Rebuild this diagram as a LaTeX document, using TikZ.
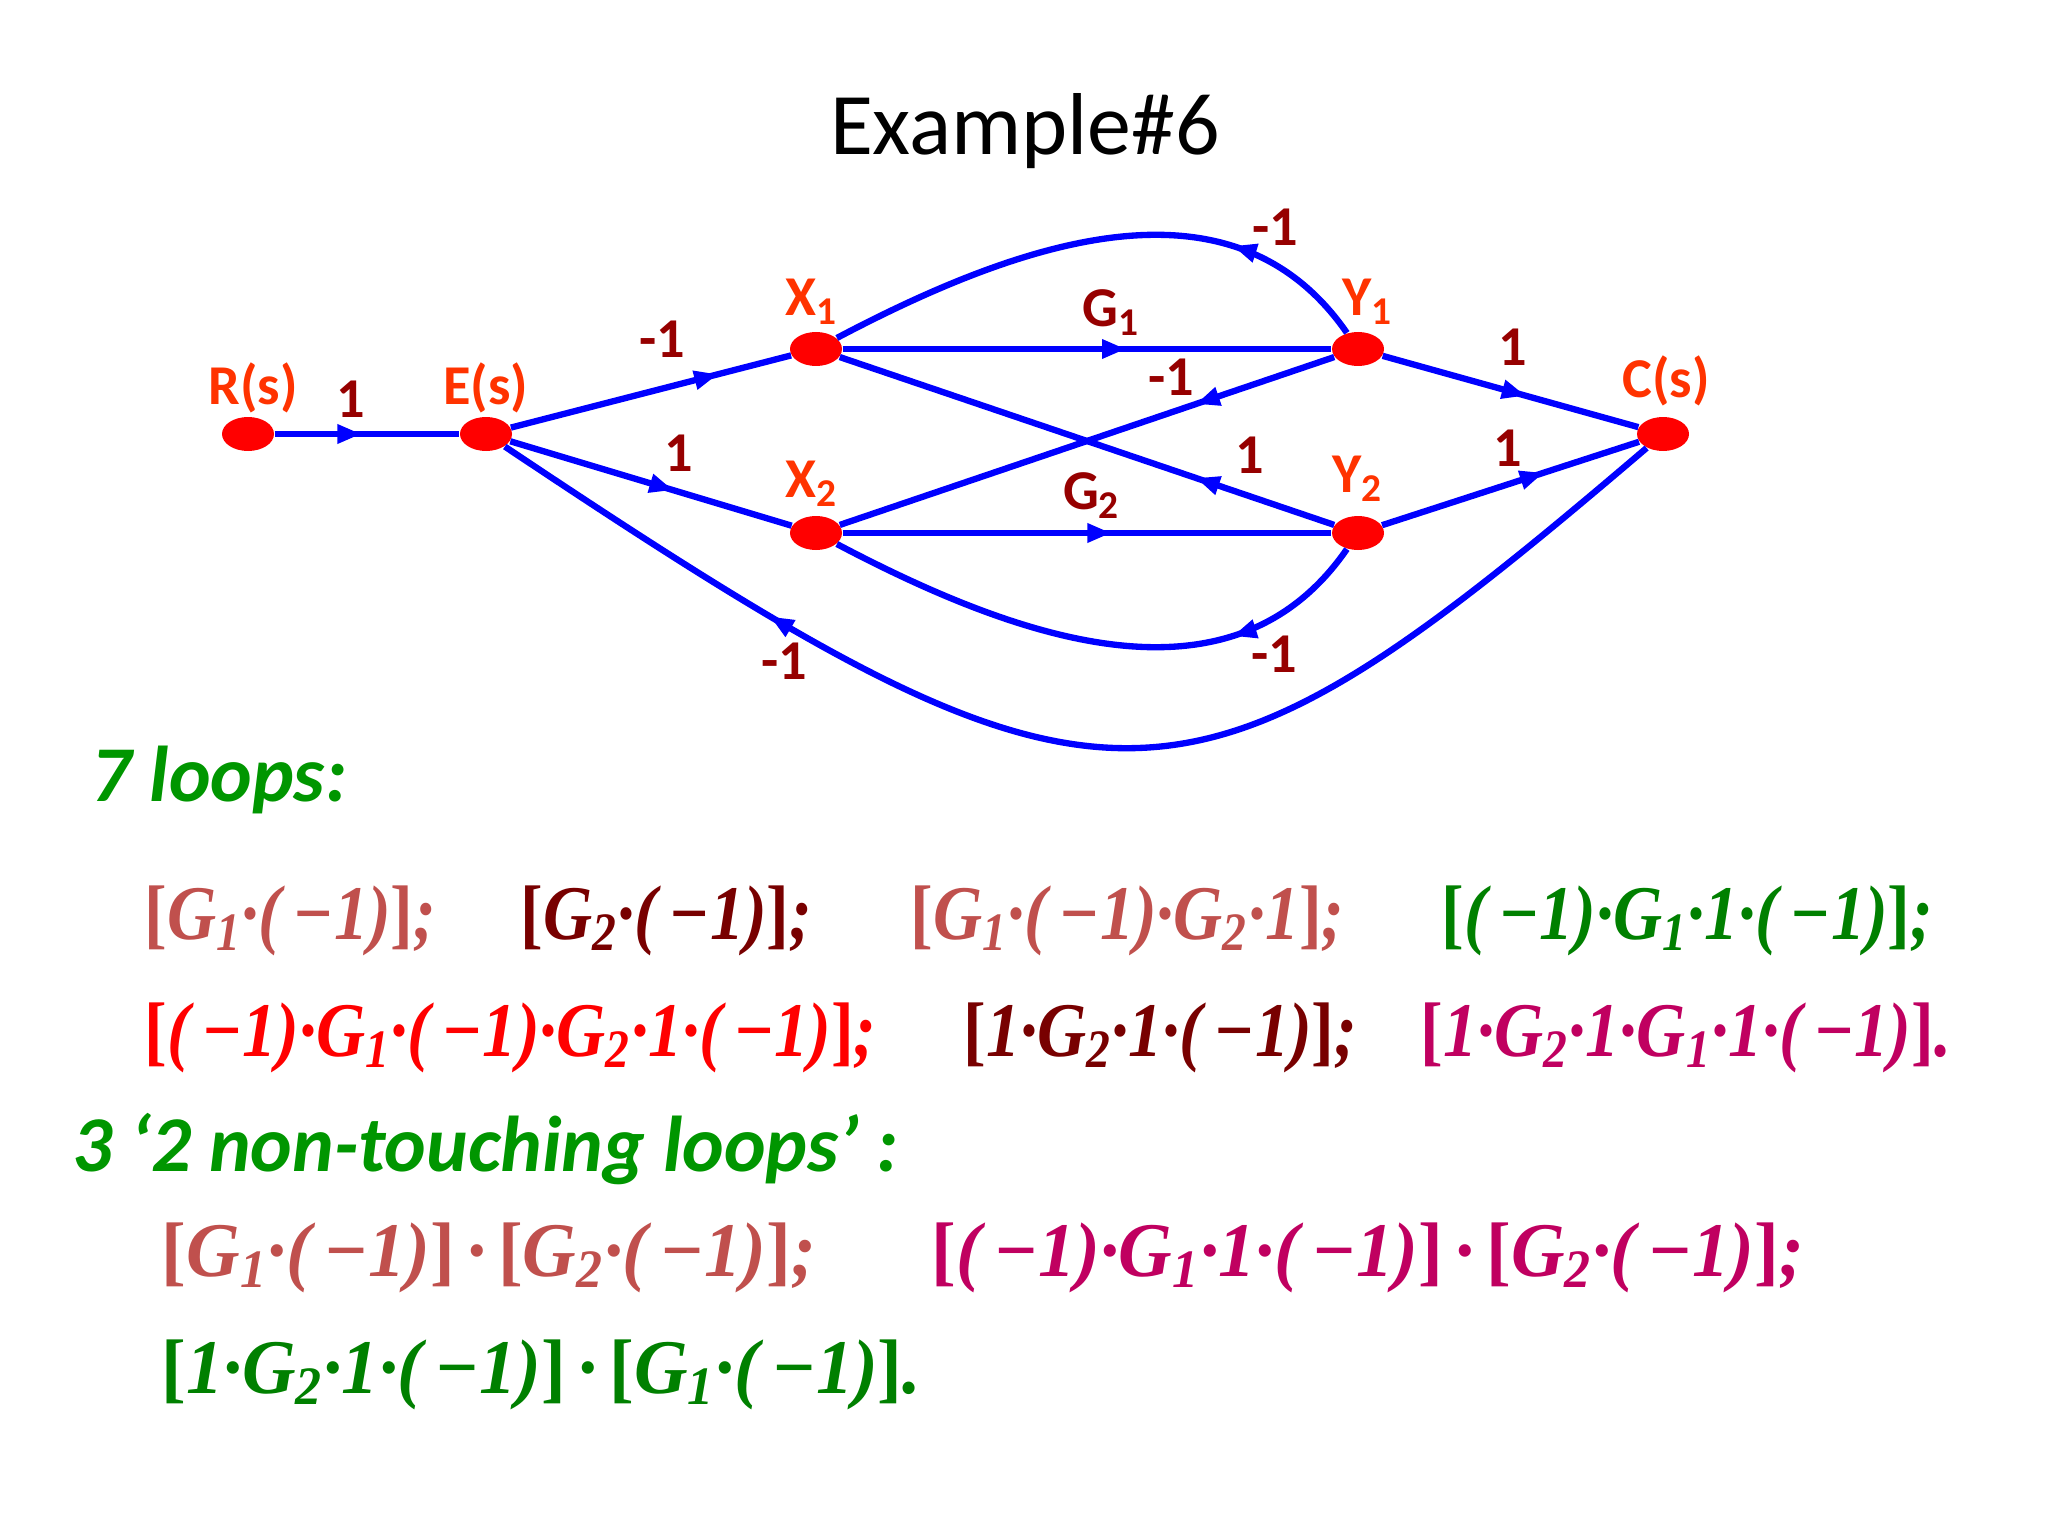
\documentclass[tikz,border=0pt]{standalone}
\usepackage{graphicx}
\usepackage{fontspec}
\setmainfont{Carlito}
\newfontfamily\eqfont{Liberation Serif}
\usetikzlibrary{arrows.meta, positioning, shapes.geometric, decorations.markings}

\definecolor{sigred}{RGB}{255,0,0}
\definecolor{sigblue}{RGB}{0,0,255}
\definecolor{namecol}{RGB}{255,51,0}
\definecolor{gaincol}{RGB}{150,0,0}
\definecolor{headgreen}{RGB}{0,150,0}
\definecolor{rosecol}{RGB}{192,80,77}
\definecolor{dkredcol}{RGB}{120,0,0}
\definecolor{eqgreen}{RGB}{0,128,0}
\definecolor{eqred}{RGB}{255,0,0}
\definecolor{crimsoncol}{RGB}{192,0,96}

\newcommand{\lbr}{\textup{[}}
\newcommand{\rbr}{\textup{]}}
\newcommand{\mone}{(\,−1)}
\newcommand{\loopnarrow}[1]{\scalebox{0.88}[1]{#1}}
\newcommand{\pairnarrow}[1]{\scalebox{0.96}[1]{#1}}

\begin{document}
\begin{tikzpicture}[
      x=0.1mm, y=0.1mm,
      signode/.style={ellipse, fill=sigred, minimum width=5.2mm, minimum height=3.4mm, inner sep=0pt},
      namelbl/.style={inner sep=0pt, text=namecol, font=\fontsize{16}{18}\selectfont\bfseries},
      gain/.style={inner sep=0pt, text=gaincol, font=\fontsize{16}{18}\selectfont\bfseries},
      branch/.style={draw=sigblue, line width=1.8pt},
      midarrow/.style={postaction={decorate},
                    decoration={markings, mark=at position #1 with {\arrow{Triangle[length=2.4mm, width=1.8mm]}}}},
      loopexpr/.style={anchor=west, inner sep=0pt, font=\eqfont\bfseries\itshape\fontsize{22}{26}\selectfont},
      heading/.style={anchor=west, inner sep=0pt, text=headgreen, font=\fontsize{22.5}{26}\selectfont\bfseries\itshape}
    ]
        \useasboundingbox (0,0) rectangle (2048,1536);
        \node[font=\fontsize{25}{30}\selectfont] (title) at (1025,1405) {Example\#6};

        % signal nodes
        \node[signode] (R) at (248,1102) {};
        \node[signode] (E) at (486,1102) {};
        \node[signode] (X1) at (816,1187) {};
        \node[signode] (X2) at (816,1003) {};
        \node[signode] (Y1) at (1358,1187) {};
        \node[signode] (Y2) at (1358,1003) {};
        \node[signode] (C) at (1663,1102) {};
        \node[namelbl, above=0.3mm of R, xshift=0.5mm] (Rlab) {R(s)};
        \node[namelbl, above=0.3mm of E] (Elab) {E(s)};
        \node[namelbl, above=0.6mm of X1, xshift=-0.4mm] (X1lab) {X\textsubscript{1}};
        \node[namelbl, above=0.8mm of X2, xshift=-0.4mm] (X2lab) {X\textsubscript{2}};
        \node[namelbl, above=0.6mm of Y1, xshift=1mm] (Y1lab) {Y\textsubscript{1}};
        \node[namelbl, above=1.3mm of Y2] (Y2lab) {Y\textsubscript{2}};
        \node[namelbl, above=1mm of C, xshift=0.3mm] (Clab) {C(s)};

        % branches
        \draw[branch, midarrow=0.47] (R) -- node[gain, above=1.3mm, pos=0.41] (gRE) {1} (E);
        \draw[branch, midarrow=0.74] (E) -- node[gain, above=2.8mm, pos=0.54] (gEX1) {-1} (X1);
        \draw[branch, midarrow=0.58] (E) -- node[gain, above=1.7mm, pos=0.60] (gEX2) {1} (X2);
        \draw[branch, midarrow=0.58] (X1) -- node[gain, above=1mm, pos=0.55] (gX1Y1) {G\textsubscript{1}} (Y1);
        \draw[branch, midarrow=0.55] (X2) -- node[gain, above=1.1mm, pos=0.51] (gX2Y2) {G\textsubscript{2}} (Y2);
        \draw[branch, midarrow=0.28] (Y1) -- node[gain, above=1.4mm, pos=0.33] (gY1X2) {-1} (X2);
        \draw[branch, midarrow=0.28] (Y2) -- node[gain, above=2mm, pos=0.17] (gY2X1) {1} (X1);
        \draw[branch, midarrow=0.56] (Y1) -- node[gain, above=2.4mm, pos=0.51] (gY1C) {1} (C);
        \draw[branch, midarrow=0.63] (Y2) -- node[gain, above=1.5mm, pos=0.49] (gY2C) {1} (C);
        \draw[branch, midarrow=0.26] (Y1) .. controls (1235,1365) and (1030,1300) .. node[gain, pos=0.25, above right=0.3mm] (gY1X1) {-1} (X1);
        \draw[branch, midarrow=0.26] (Y2) .. controls (1235,825) and (1030,890) .. node[gain, pos=0.25, below right=0.2mm] (gY2X2) {-1} (X2);
        \draw[branch, midarrow=0.76] (C) .. controls (1180,690) and (1110,685) .. node[gain, pos=0.79, below left=-0.8mm and 1.4mm] (gCE) {-1} (E);

        % loop lists
        \node[heading] (hloops) at (91,756) {7 loops:};
        \node[loopexpr, text=rosecol] (L1) at (144,615) {\loopnarrow{\lbr G\textsubscript{1}·\mone\rbr;}};
        \node[loopexpr, text=dkredcol] (L2) at (520,615) {\loopnarrow{\lbr G\textsubscript{2}·\mone\rbr;}};
        \node[loopexpr, text=rosecol] (L3) at (910,615) {\loopnarrow{\lbr G\textsubscript{1}·\mone·G\textsubscript{2}·1\rbr;}};
        \node[loopexpr, text=eqgreen] (L4) at (1441,615) {\loopnarrow{\lbr\mone·G\textsubscript{1}·1·\mone\rbr;}};
        \node[loopexpr, text=eqred] (L5) at (144,498) {\loopnarrow{\lbr\mone·G\textsubscript{1}·\mone·G\textsubscript{2}·1·\mone\rbr;}};
        \node[loopexpr, text=dkredcol] (L6) at (963,498) {\loopnarrow{\lbr 1·G\textsubscript{2}·1·\mone\rbr;}};
        \node[loopexpr, text=crimsoncol] (L7) at (1420,498) {\loopnarrow{\lbr 1·G\textsubscript{2}·1·G\textsubscript{1}·1·\mone\rbr.}};
        \node[heading] (hnontouch) at (72,387) {3 ‘2 non-touching loops’ :};
        \node[loopexpr, text=rosecol] (N1) at (161,278) {\pairnarrow{\lbr G\textsubscript{1}·\mone\rbr\,·\,\lbr G\textsubscript{2}·\mone\rbr;}};
        \node[loopexpr, text=crimsoncol] (N2) at (931,278) {\pairnarrow{\lbr\mone·G\textsubscript{1}·1·\mone\rbr\,·\,\lbr G\textsubscript{2}·\mone\rbr;}};
        \node[loopexpr, text=eqgreen] (N3) at (161,161) {\pairnarrow{\lbr 1·G\textsubscript{2}·1·\mone\rbr\,·\,\lbr G\textsubscript{1}·\mone\rbr.}};
    \end{tikzpicture}
\end{document}
